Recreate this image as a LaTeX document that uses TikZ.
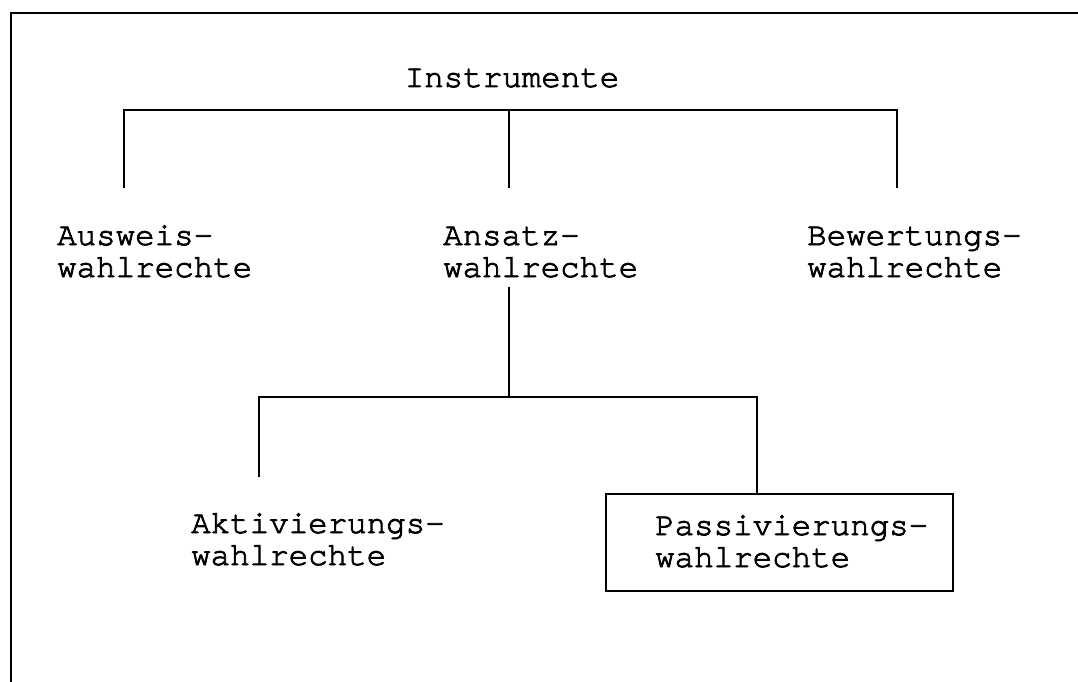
\documentclass[tikz,border=0pt]{standalone}
\usepackage{fontspec}
\setmainfont{TeX Gyre Cursor}[FakeBold=2.5]
\begin{document}
\begin{tikzpicture}[x=1pt,y=-1pt,
  lbl/.style={font=\fontsize{32.5}{32}\selectfont, align=left, inner sep=0pt, anchor=base west},
  conn/.style={draw, line width=1.7pt},
  framebox/.style={draw, line width=1.7pt, inner sep=0pt, anchor=north west}]
\useasboundingbox (0,0) rectangle (1078,682);
% outer frame (top and left edges)
\draw[conn] (11,682) -- (11,13) -- (1078,13);
% texts (base anchor = baseline of the last line)
\node[lbl, anchor=base] (ins) at (512,87) {Instrumente};
\node[lbl] (aus) at (57,277) {Ausweis-\\wahlrechte};
\node[lbl] (ans) at (443,277) {Ansatz-\\wahlrechte};
\node[lbl] (bew) at (807,277) {Bewertungs-\\wahlrechte};
\node[lbl] (akt) at (191,565) {Aktivierungs-\\wahlrechte};
\node[framebox, minimum width=347pt, minimum height=97pt] (pbox) at (605,493) {};
\node[lbl] (pas) at (655,567) {Passivierungs-\\wahlrechte};
% junctions
\coordinate (t) at (509,110);
\coordinate (tl) at (124,110);
\coordinate (tr) at (897,110);
\coordinate (tle) at (124,188);
\coordinate (tme) at (509,188);
\coordinate (tre) at (897,188);
\coordinate (ms) at (509,287);
\coordinate (m) at (509,397);
\coordinate (ml) at (259,397);
\coordinate (mr) at (757,397);
\coordinate (mle) at (259,477);
% connectors
\draw[conn] (tle) -- (tl) -- (tr) -- (tre);
\draw[conn] (t) -- (tme);
\draw[conn] (ms) -- (m);
\draw[conn] (mle) -- (ml) -- (mr) -- (mr |- pbox.north);
\end{tikzpicture}
\end{document}
